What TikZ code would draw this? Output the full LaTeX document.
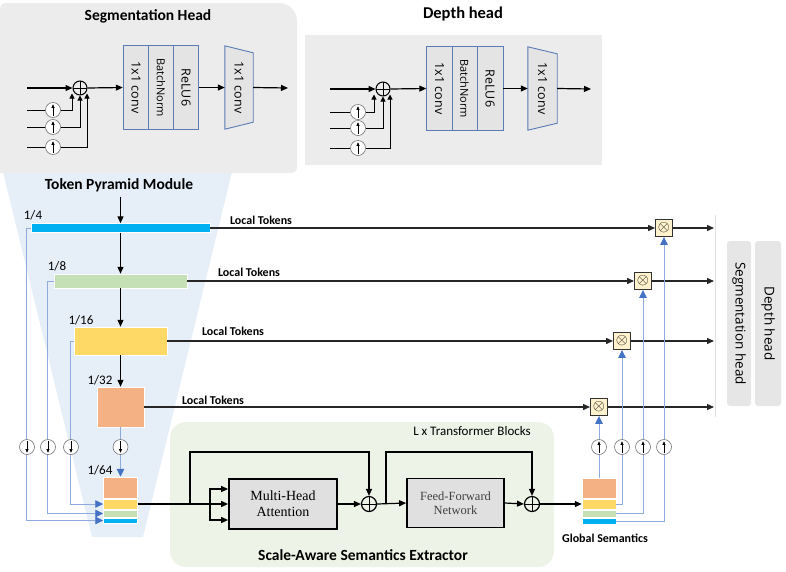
\documentclass[tikz,border=0pt]{standalone}
\usepackage{fontspec}
\setmainfont{Carlito}
\newfontfamily\osans{Open Sans}
\newfontfamily\tnr{Liberation Serif}
\newcommand\btxtfont{\osans\fontsize{12.5}{13}\selectfont}
\newcommand\bnfont{\osans\fontsize{11}{12}\selectfont}
\newcommand\otm{\scalebox{1.55}{$\otimes$}}
\usetikzlibrary{arrows.meta,calc}
\definecolor{segbg}{HTML}{ECECEC}
\definecolor{pyrbg}{HTML}{E6EEF8}
\definecolor{sasbg}{HTML}{EEF3E7}
\definecolor{cblue}{HTML}{00B0F0}
\definecolor{cgreen}{HTML}{C5E0B4}
\definecolor{cyell}{HTML}{FFD966}
\definecolor{corange}{HTML}{F4B183}
\definecolor{lblue}{HTML}{8FAADC}
\definecolor{tipblue}{HTML}{4472C4}
\definecolor{blkfill}{HTML}{E4E4E4}
\definecolor{blkdraw}{HTML}{5A7BB5}
\definecolor{multfill}{HTML}{FFF2CC}
\definecolor{headbox}{HTML}{E6E6E6}
\begin{document}
\begin{tikzpicture}[x=1pt,y=-1pt,
  arr/.style={line width=1.2pt,-{Triangle[length=7pt,width=6pt]}},
  sarr/.style={line width=1pt,-{Triangle[length=5pt,width=5pt]}},
  tok/.style={line width=1.3pt,draw=black!85,-{Triangle[length=7pt,width=6pt]}},
  barr/.style={line width=0.9pt,draw=lblue,-{Triangle[length=8pt,width=7.5pt,color=tipblue]}},
  blk/.style={draw=blkdraw,fill=blkfill,line width=0.9pt,inner sep=0pt,minimum height=84pt},
  trapz/.style={inner sep=0pt,minimum height=83pt},
  plus/.style={circle,draw,line width=1pt,minimum size=14pt,inner sep=0pt,
    path picture={\draw[line width=0.8pt] (path picture bounding box.north) -- (path picture bounding box.south)
      (path picture bounding box.west) -- (path picture bounding box.east);}},
  ucirc/.style={circle,draw=black!55,fill=white,line width=0.6pt,minimum size=15pt,inner sep=0pt,
    path picture={\draw[black,line width=0.6pt,-{Triangle[length=3.5pt,width=3pt]}]
      ($(path picture bounding box.south)!0.12!(path picture bounding box.north)$) --
      ($(path picture bounding box.south)!0.88!(path picture bounding box.north)$);}},
  dcirc/.style={circle,draw=black!55,fill=white,line width=0.6pt,minimum size=15pt,inner sep=0pt,
    path picture={\draw[black,line width=0.6pt,-{Triangle[length=3.5pt,width=3pt]}]
      ($(path picture bounding box.north)!0.12!(path picture bounding box.south)$) --
      ($(path picture bounding box.north)!0.88!(path picture bounding box.south)$);}},
  mult/.style={draw=black!80,fill=multfill,line width=0.9pt,minimum size=17pt,inner sep=0pt},
  bar/.style={inner sep=0pt,draw=white,line width=0.5pt},
  ttl/.style={font=\bfseries\fontsize{15.5}{16}\selectfont},
  lt/.style={font=\bfseries\fontsize{12}{12}\selectfont},
  frac/.style={font=\fontsize{13}{13}\selectfont},
  hbox/.style={fill=headbox,rounded corners=3pt,inner sep=0pt,minimum height=165pt,font=\osans\fontsize{13.5}{14}\selectfont},
]
\useasboundingbox (0,0) rectangle (786,571);

% ---------- backgrounds ----------
\fill[pyrbg] (3,172) -- (232,172) -- (143,537) -- (92,537) -- cycle;
\fill[segbg] (0,173) -- (0,8) [rounded corners=5pt] -- (0,3) [rounded corners=18pt] -- (297,3) [rounded corners=6pt] -- (297,173) [sharp corners] -- cycle;
\fill[segbg] (305,35) rectangle (602,165);
\fill[sasbg,rounded corners=16pt] (170,422) rectangle (554,567);
\draw[black!12,line width=0.8pt] (715,215) -- (715,417);

% ---------- Segmentation head ----------
\node[ttl] (segt) at (148,16) {Segmentation Head};
\node[plus] (sp) at (80,88) {};
\node[blk,minimum width=25.5pt] (sc1) at (136,87.5) {\rotatebox{-90}{\btxtfont 1x1 conv}};
\node[blk,minimum width=25pt] (sbn) at (161,87.5) {\rotatebox{-90}{\bnfont BatchNorm}};
\node[blk,minimum width=25.5pt] (srl) at (186,87.5) {\rotatebox{-90}{\btxtfont ReLU6}};
\node[trapz,minimum width=28pt] (st) at (239,87.5) {};
\draw[blkdraw,fill=blkfill,line width=0.9pt] (st.north west) -- ($(st.north east)+(0,7)$) -- ($(st.south east)+(0,-7)$) -- (st.south west) -- cycle;
\node[trapz,minimum width=28pt] (stx) at (239,87.5) {\rotatebox{-90}{\btxtfont 1x1 conv}};
\coordinate (si) at (27,88);
\coordinate (so) at (288,88);
\draw[arr] (si) -- (sp.west);
\draw[arr] (sp.east) -- (sc1.west);
\draw[arr] (srl.east) -- (st.west);
\draw[arr] (st.east) -- (so);
\node[ucirc] (su1) at (53,110) {};
\node[ucirc] (su2) at (53,127) {};
\node[ucirc] (su3) at (53,147) {};
\coordinate (si1) at (27,110);
\coordinate (si2) at (27,127);
\coordinate (si3) at (27,147);
\draw[line width=1pt] (si1) -- (su1.west) (si2) -- (su2.west) (si3) -- (su3.west);
\draw[sarr] (su1.east) -| ($(sp.south)+(-8,-2)$);
\draw[sarr] (su2.east) -| ($(sp.south)+(0,0)$);
\draw[sarr] (su3.east) -| ($(sp.south)+(7,-2)$);

% ---------- Depth head ----------
\node[font=\bfseries\fontsize{16.5}{17}\selectfont] (dept) at (463,14) {Depth head};
\node[plus] (dp) at (383,89) {};
\node[blk,minimum width=25.5pt] (dc1) at (439.5,88.5) {\rotatebox{-90}{\btxtfont 1x1 conv}};
\node[blk,minimum width=25pt] (dbn) at (464.5,88.5) {\rotatebox{-90}{\bnfont BatchNorm}};
\node[blk,minimum width=26pt] (drl) at (490,88.5) {\rotatebox{-90}{\btxtfont ReLU6}};
\node[trapz,minimum width=29pt] (dt) at (542.5,88.5) {};
\draw[blkdraw,fill=blkfill,line width=0.9pt] (dt.north west) -- ($(dt.north east)+(0,7)$) -- ($(dt.south east)+(0,-7)$) -- (dt.south west) -- cycle;
\node[trapz,minimum width=29pt] (dtx) at (542.5,88.5) {\rotatebox{-90}{\btxtfont 1x1 conv}};
\coordinate (di) at (330,89);
\coordinate (do) at (591,89);
\draw[arr] (di) -- (dp.west);
\draw[arr] (dp.east) -- (dc1.west);
\draw[arr] (drl.east) -- (dt.west);
\draw[arr] (dt.east) -- (do);
\node[ucirc] (du1) at (358,112) {};
\node[ucirc] (du2) at (358,128) {};
\node[ucirc] (du3) at (358,148) {};
\coordinate (di1) at (330,112);
\coordinate (di2) at (330,128);
\coordinate (di3) at (330,148);
\draw[line width=1pt] (di1) -- (du1.west) (di2) -- (du2.west) (di3) -- (du3.west);
\draw[sarr] (du1.east) -| ($(dp.south)+(-9,-2)$);
\draw[sarr] (du2.east) -| ($(dp.south)+(0,0)$);
\draw[sarr] (du3.east) -| ($(dp.south)+(7,-2)$);

% ---------- Token Pyramid Module ----------
\node[ttl] (tpm) at (119,185) {Token Pyramid Module};
\coordinate (tin) at (120.5,197);
\node[bar,fill=cblue,minimum width=179pt,minimum height=9pt] (b4) at (120.5,228) {};
\node[bar,fill=cgreen,minimum width=133pt,minimum height=14pt] (b8) at (120.5,281) {};
\node[bar,fill=cyell,minimum width=93pt,minimum height=28pt] (b16) at (120.5,341) {};
\node[bar,fill=corange,minimum width=47pt,minimum height=40pt] (b32) at (120.5,407) {};
\node[frac] (f4) at (33,215) {1/4};
\node[frac] (f8) at (57,266) {1/8};
\node[frac] (f16) at (81,320) {1/16};
\node[frac] (f32) at (100,380) {1/32};
\node[frac] (f64) at (100,470) {1/64};
\draw[arr] (tin) -- (b4.north);
\draw[arr] (b4.south) -- (b8.north);
\draw[arr] (b8.south) -- (b16.north);
\draw[arr] (b16.south) -- (b32.north);

% 1/64 stack
\node[bar,fill=corange,minimum width=34pt,minimum height=21pt] (lo) at (120.5,487.5) {};
\node[bar,fill=cyell,minimum width=34pt,minimum height=10pt] (ly) at (120.5,504) {};
\node[bar,fill=cgreen,minimum width=34pt,minimum height=7pt] (lg) at (120.5,513.5) {};
\node[bar,fill=cblue,minimum width=34pt,minimum height=5pt] (lb) at (120.5,520.5) {};

\draw[barr] (b4.west) -- ++(-4,0) |- (lb.west);
\draw[barr] (b8.west) -- ++(-6,0) |- (lg.west);
\draw[barr] (b16.west) -- ++(-3,0) |- (ly.west);
\draw[barr] (b32.south) -- (lo.north);
\node[dcirc] (ld1) at (27,447) {};
\node[dcirc] (ld2) at (48,447) {};
\node[dcirc] (ld3) at (71,447) {};
\node[dcirc] (ld4) at (120.5,447) {};

% ---------- Local tokens ----------
\node[mult] (m1) at (664,228) {\otm};
\node[mult] (m2) at (643,281) {\otm};
\node[mult] (m3) at (622,341) {\otm};
\node[mult] (m4) at (599,407) {\otm};
\coordinate (o1) at (714,228);
\coordinate (o2) at (714,281);
\coordinate (o3) at (714,341);
\coordinate (o4) at (714,407);
\draw[tok] (b4.east) -- (m1.west);
\draw[tok] (b8.east) -- (m2.west);
\draw[tok] (b16.east) -- (m3.west);
\draw[tok] (b32.east) -- (m4.west);
\draw[tok] (m1.east) -- (o1);
\draw[tok] (m2.east) -- (o2);
\draw[tok] (m3.east) -- (o3);
\draw[tok] (m4.east) -- (o4);
\node[lt] (lt1) at (261,220) {Local Tokens};
\node[lt] (lt2) at (249,272) {Local Tokens};
\node[lt] (lt3) at (233,331) {Local Tokens};
\node[lt] (lt4) at (213,400) {Local Tokens};

% ---------- Scale-Aware Semantics Extractor ----------
\node[font=\fontsize{13}{13}\selectfont] (ltb) at (472,431) {L x Transformer Blocks};
\node[font=\bfseries\fontsize{15.5}{16}\selectfont] (sase) at (363,555) {Scale-Aware Semantics Extractor};
\node[draw,fill=black!12,line width=1.8pt,minimum width=108pt,minimum height=50pt,align=center,
      font=\tnr\fontsize{14}{16}\selectfont] (mha) at (283,504) {Multi-Head\\Attention};
\node[draw,fill=black!12,line width=1.8pt,minimum width=97pt,minimum height=49pt,align=center,text=black!75,
      font=\tnr\fontsize{12.5}{14}\selectfont] (ffn) at (455.5,503) {Feed-Forward\\Network};
\node[plus,minimum size=15pt,line width=1.2pt] (p1) at (369,504) {};
\node[plus,minimum size=15pt,line width=1.2pt] (p2) at (532,504) {};
\coordinate (k1) at (190,504);
\coordinate (f1) at (210,504);
\coordinate (k2) at (386,504);
\draw[arr] (ly.east) -- (mha.west);
\draw[arr] (f1) |- ($(mha.west)+(0,-15)$);
\draw[arr] (f1) |- ($(mha.west)+(0,16)$);
\draw[arr] (k1) -- ++(0,-52) -| (p1.north);
\draw[arr] (mha.east) -- (p1.west);
\draw[arr] (p1.east) -- (ffn.west);
\draw[arr] (k2) -- ++(0,-52) -| (p2.north);
\draw[arr] (ffn.east) -- (p2.west);

% ---------- Global semantics ----------
\node[bar,fill=corange,minimum width=34pt,minimum height=20pt] (go) at (599,488) {};
\node[bar,fill=cyell,minimum width=34pt,minimum height=10pt] (gy) at (599,504) {};
\node[bar,fill=cgreen,minimum width=34pt,minimum height=7pt] (gg) at (599,513.5) {};
\node[bar,fill=cblue,minimum width=34pt,minimum height=6pt] (gb) at (599,521) {};
\draw[arr] (p2.east) -- (gy.west);
\node[lt] (gsl) at (605,538) {Global Semantics};
\draw[barr] (go.north) -- (m4.south);
\draw[barr] (gy.east) -| (m3.south);
\draw[barr] (gg.east) -| (m2.south);
\draw[barr] (gb.east) -| (m1.south);
\node[ucirc] (gu1) at (599,447) {};
\node[ucirc] (gu2) at (622,447) {};
\node[ucirc] (gu3) at (643,447) {};
\node[ucirc] (gu4) at (664,447) {};

% ---------- right head boxes ----------
\node[hbox,minimum width=24pt] (hseg) at (739,323.5) {\rotatebox{-90}{Segmentation head}};
\node[hbox,minimum width=26pt] (hdep) at (768,323.5) {\rotatebox{-90}{Depth head}};
\end{tikzpicture}
\end{document}
